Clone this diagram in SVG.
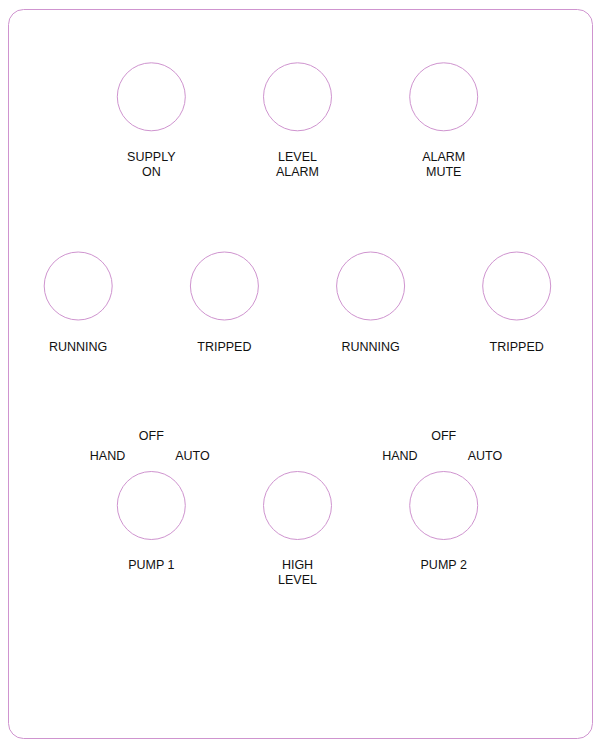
<svg xmlns="http://www.w3.org/2000/svg" width="600" height="750" viewBox="0 0 600 750">
<style>
.lamp{fill:#ffffff;stroke:#cf94cf;stroke-width:1}
.frame{fill:#ffffff;stroke:#cf94cf;stroke-width:1}
text{font-family:"Liberation Sans",Arial,sans-serif;font-size:12.5px;fill:#111111;text-anchor:middle}
</style>
<rect width="600" height="750" fill="#ffffff"/>
<rect id="panel" class="frame" x="8.5" y="9.5" width="584" height="729" rx="15" ry="15"/>
<g id="supply-on"><circle class="lamp" cx="151.3" cy="96.8" r="34"/><text x="151.3" y="161">SUPPLY</text><text x="151.3" y="176">ON</text></g>
<g id="level-alarm"><circle class="lamp" cx="297.5" cy="96.8" r="34"/><text x="297.5" y="161">LEVEL</text><text x="297.5" y="176">ALARM</text></g>
<g id="alarm-mute"><circle class="lamp" cx="443.7" cy="96.8" r="34"/><text x="443.7" y="161">ALARM</text><text x="443.7" y="176">MUTE</text></g>
<g id="running-1"><circle class="lamp" cx="78.2" cy="286" r="34"/><text x="78.2" y="351">RUNNING</text></g>
<g id="tripped-1"><circle class="lamp" cx="224.4" cy="286" r="34"/><text x="224.4" y="351">TRIPPED</text></g>
<g id="running-2"><circle class="lamp" cx="370.6" cy="286" r="34"/><text x="370.6" y="351">RUNNING</text></g>
<g id="tripped-2"><circle class="lamp" cx="516.7" cy="286" r="34"/><text x="516.7" y="351">TRIPPED</text></g>
<g id="pump-1"><text x="151.3" y="440">OFF</text><text x="107.5" y="460">HAND</text><text x="192.5" y="460">AUTO</text><circle class="lamp" cx="151.3" cy="505.5" r="34"/><text x="151.3" y="569">PUMP 1</text></g>
<g id="high-level"><circle class="lamp" cx="297.5" cy="505.5" r="34"/><text x="297.5" y="569">HIGH</text><text x="297.5" y="584">LEVEL</text></g>
<g id="pump-2"><text x="443.7" y="440">OFF</text><text x="399.9" y="460">HAND</text><text x="484.9" y="460">AUTO</text><circle class="lamp" cx="443.7" cy="505.5" r="34"/><text x="443.7" y="569">PUMP 2</text></g>
<g id="connectors"/>
</svg>
